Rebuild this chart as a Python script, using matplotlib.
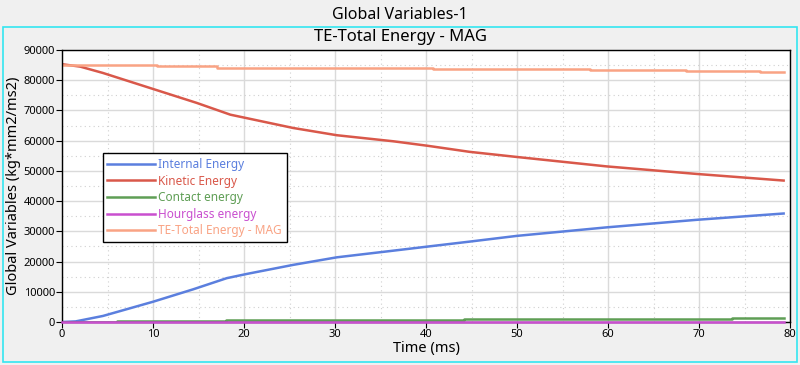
import matplotlib
matplotlib.use("Agg")
from matplotlib import pyplot as plt
from matplotlib.patches import Rectangle
from matplotlib.ticker import MultipleLocator

plt.rcParams['font.family'] = ['Noto Sans', 'DejaVu Sans']

# time (ms) / value pairs
internal_t = [0, 1.5, 4.5, 10, 14.4, 18.1, 20.3, 25.4, 30.2, 36.4, 40.3, 44.8, 50, 59.8, 69.7, 79.3]
internal_v = [0, 200, 2000, 6700, 10800, 14500, 15900, 18900, 21400, 23600, 25000, 26600,
              28500, 31300, 33800, 35900]

kinetic_t = [0, 2, 4.5, 9.7, 14.8, 18.5, 25.4, 30.2, 36.4, 40.2, 44.8, 50, 59.8, 69.7, 79.3]
kinetic_v = [85300, 84500, 82400, 77400, 72500, 68600, 64200, 61800, 59800, 58300, 56300,
             54600, 51500, 49000, 46800]

contact_t = [0, 6, 18, 44.2, 73.6, 79.3]
contact_v = [0, 200, 500, 900, 1300, 1300]

hourglass_t = [0, 6, 79.3]
hourglass_v = [0, 60, 60]

total_t = [0, 10.4, 17, 25.8, 40.8, 58, 68.6, 76.7, 79.3]
total_v = [85000, 84600, 84200, 83900, 83700, 83400, 83100, 82800, 82800]

bg = '#f0f0f0'
fig = plt.figure(figsize=(8, 3.65), dpi=100, facecolor=bg)
fig.patches.append(Rectangle((3 / 800, 3 / 365), 794 / 800, 335 / 365,
                             transform=fig.transFigure, fill=False,
                             edgecolor='#33e6f0', linewidth=1.2))

ax = fig.add_axes([62 / 800, 43 / 365, 728 / 800, 272 / 365])
ax.set_facecolor('white')

ax.plot(internal_t, internal_v, color='#5b7fde', lw=1.8, label='Internal Energy')
ax.plot(kinetic_t, kinetic_v, color='#d9584a', lw=1.8, label='Kinetic Energy')
ax.plot(contact_t, contact_v, color='#5f9e55', lw=1.8, drawstyle='steps-post',
        label='Contact energy')
ax.plot(hourglass_t, hourglass_v, color='#c94fcf', lw=1.8, drawstyle='steps-post',
        label='Hourglass energy', zorder=3, clip_on=False)
ax.plot(total_t, total_v, color='#f9a384', lw=1.8, drawstyle='steps-post',
        label='TE-Total Energy - MAG')

ax.set_xlim(0, 80)
ax.set_ylim(0, 90000)
ax.xaxis.set_major_locator(MultipleLocator(10))
ax.xaxis.set_minor_locator(MultipleLocator(5))
ax.yaxis.set_major_locator(MultipleLocator(10000))
ax.yaxis.set_minor_locator(MultipleLocator(5000))
ax.grid(which='major', color='#dadada', lw=1)
ax.grid(which='minor', color='#d0d0d0', lw=0.8, ls=(0, (1, 3)))
ax.set_axisbelow(True)
ax.tick_params(which='major', labelsize=8, length=4, direction='out', pad=1)
ax.tick_params(which='minor', length=0)
for s in ax.spines.values():
    s.set_color('black')
    s.set_linewidth(1)

ax.set_xlabel('Time (ms)', fontsize=10.5, labelpad=1)
ax.set_ylabel('Global Variables (kg*mm2/ms2)', fontsize=10.5, labelpad=2)

leg = ax.legend(loc='upper left', bbox_to_anchor=(0.056, 0.62), fontsize=8.5,
                frameon=True, fancybox=False, framealpha=1, edgecolor='black',
                handlelength=4.0, labelspacing=0.3, borderpad=0.4,
                handletextpad=0.3, borderaxespad=0)
leg.get_frame().set_linewidth(1)
for txt, line in zip(leg.get_texts(), leg.get_lines()):
    txt.set_color(line.get_color())

fig.text(0.5, 1 - 15 / 365, 'Global Variables-1', ha='center', va='center', fontsize=11.5)
fig.text(0.5, 1 - 37 / 365, 'TE-Total Energy - MAG', ha='center', va='center', fontsize=12)

fig.savefig('out.png', dpi=100, facecolor=bg)
